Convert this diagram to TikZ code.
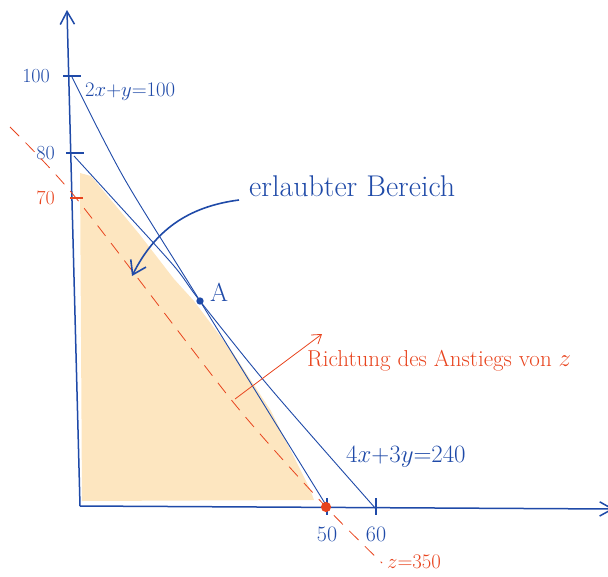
\documentclass[tikz,border=0pt]{standalone}
\usepackage{tikz}
\usetikzlibrary{arrows.meta,positioning,calc}
\definecolor{cB}{HTML}{1F4AA8}
\definecolor{cR}{HTML}{E8441E}
\definecolor{cF}{HTML}{FDE6C0}
\tikzset{
  axisline/.style={cB,line width=1.5pt,-{Straight Barb[length=4.5mm,width=5mm]}},
  tickmark/.style={cB,line width=1.3pt},
  rtickmark/.style={cR,line width=1.1pt},
  cline/.style={cB,line width=0.9pt},
  zline/.style={cR,line width=0.8pt,dash pattern=on 13pt off 9pt},
  pointer/.style={cB,line width=1.6pt,-{Straight Barb[length=4.5mm,width=6mm]}},
  risearrow/.style={cR,line width=0.8pt,-{Straight Barb[length=3mm,width=4mm]}},
  dot/.style={circle,fill=cB,inner sep=2.6pt},
  rdot/.style={circle,fill=cR,inner sep=3.6pt},
  lbl/.style={cB,font=\fontsize{20}{24}\selectfont,inner sep=1pt},
  rlbl/.style={cR,font=\fontsize{20}{24}\selectfont,inner sep=1pt},
}
\begin{document}
\begin{tikzpicture}[x=1pt,y=-1pt]
  \useasboundingbox (0,0) rectangle (608,576);
  % feasible region
  \fill[cF] (80,173) -- (91,176) -- (116,206) -- (140,235) -- (174,279)
     -- (194,301) -- (233,353) -- (271,411) -- (310,489) -- (314,500)
     -- (82,501) -- cycle;
  % axes
  \coordinate (O) at (80,506);
  \coordinate (ytop) at (67,10);
  \coordinate (xend) at (614,509);
  \draw[axisline] (O) -- (ytop);
  \draw[axisline] (O) -- (xend);
  % ticks
  \coordinate (t100) at (71,76);
  \coordinate (t80) at (74,153);
  \coordinate (t70) at (76,198);
  \coordinate (t50) at (327,507);
  \coordinate (t60) at (376,507);
  \foreach \n in {t100,t80}{
     \draw[tickmark] ($(\n)+(-8,0)$) -- ($(\n)+(10,0)$);}
  \draw[rtickmark] ($(t70)+(-6,0)$) -- ($(t70)+(7,0)$);
  \foreach \n in {t50,t60}{
     \draw[tickmark] ($(\n)+(0,-9)$) -- ($(\n)+(0,8)$);}
  \node[lbl,left=20pt of t100] (l100) {100};
  \node[lbl,left=18pt of t80] (l80) {80};
  \node[rlbl,left=20pt of t70] (l70) {70};
  \node[lbl,font=\fontsize{22}{26}\selectfont,below=19pt of t50] (l50) {50};
  \node[lbl,font=\fontsize{22}{26}\selectfont,below=19pt of t60] (l60) {60};
  % constraints
  \node[dot] (A) at (200,301) {};
  \coordinate (p100) at (72,77);
  \coordinate (p50) at (326,505);
  \coordinate (p80) at (74,156);
  \coordinate (p60) at (376,509);
  \draw[cline] plot[smooth,tension=0.5] coordinates
     {(p100) (124,178) (A.center) (p50)};
  \draw[cline] plot[smooth,tension=0.5] coordinates
     {(p80) (116,202) (174,266) (A.center) (271,389) (p60)};
  \node[lbl,font=\fontsize{20}{24}\selectfont,anchor=west] (c1) at (84,92) {$2x{+}y{=}100$};
  \node[lbl,font=\fontsize{24}{28}\selectfont,anchor=west] (c2) at (345,457) {$4x{+}3y{=}240$};
  \node[lbl,font=\fontsize{26}{30}\selectfont,right=5pt of A,yshift=9pt] (lA) {A};
  % objective line z = 350
  \node[rdot] (zP) at (326,507) {};
  \coordinate (z0) at (10,127);
  \coordinate (z1) at (382,563);
  \draw[zline] plot[smooth,tension=0.4] coordinates
     {(z0) (t70) (233,402) (zP.center) (z1)};
  \node[rlbl,anchor=west] (lz) at (386,562) {$z{=}350$};
  % direction of growth
  \coordinate (r0) at (235,399);
  \coordinate (r1) at (322,334);
  \draw[risearrow] (r0) -- (r1);
  \node[rlbl,font=\fontsize{23}{27}\selectfont,anchor=west] (lr) at (306,361) {Richtung des Anstiegs von $z$};
  % feasible region label
  \node[lbl,font=\fontsize{30}{34}\selectfont,anchor=west] (erl) at (248,186) {erlaubter Bereich};
  \coordinate (tip) at (132,276);
  \draw[pointer] ($(erl.west)+(-9,14)$) to[bend right=28] (tip);
\end{tikzpicture}
\end{document}
